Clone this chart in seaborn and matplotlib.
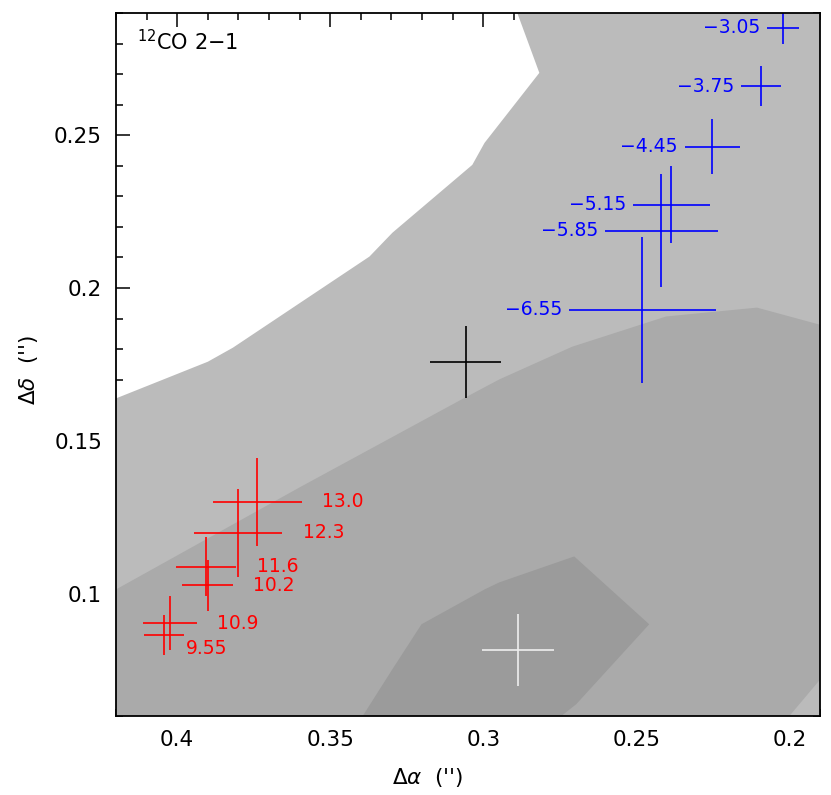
import matplotlib
matplotlib.use("Agg")
import matplotlib.pyplot as plt
from matplotlib.ticker import MultipleLocator, FormatStrFormatter
import seaborn as sns

# contour boundaries (delta alpha, delta delta)
edge1_x = [0.42, 0.390, 0.3818, 0.3372, 0.3297, 0.3036, 0.2996, 0.2817, 0.2889]
edge1_y = [0.1639, 0.1759, 0.1805, 0.2103, 0.2181, 0.2403, 0.2475, 0.2704, 0.29]
edge2_x = [0.42, 0.360, 0.3072, 0.2948, 0.2710, 0.2403, 0.2106, 0.19, 0.19, 0.20]
edge2_y = [0.1014, 0.1348, 0.1635, 0.1701, 0.1808, 0.1907, 0.1936, 0.1880, 0.0719, 0.06]
edge3_x = [0.3394, 0.3297, 0.3202, 0.2996, 0.2948, 0.2703, 0.2458, 0.2696, 0.2745]
edge3_y = [0.06, 0.0753, 0.090, 0.1014, 0.1037, 0.1122, 0.0900, 0.0639, 0.06]

# red-shifted components
red_x = [0.3738, 0.3801, 0.3906, 0.3901, 0.4025, 0.4043]
red_y = [0.1301, 0.1200, 0.1089, 0.1027, 0.0903, 0.0865]
red_err = [0.0144, 0.0144, 0.0098, 0.0082, 0.0088, 0.0065]
red_labels = ['13.0', '12.3', '11.6', '10.2', '10.9', '9.55']

# blue-shifted components
blue_x = [0.2020, 0.2092, 0.2252, 0.2386, 0.2418, 0.2480]
blue_y = [0.2851, 0.2661, 0.2462, 0.2273, 0.2187, 0.1929]
blue_err = [0.0052, 0.0066, 0.0090, 0.0125, 0.0185, 0.0239]
blue_labels = ['\u22123.05', '\u22123.75', '\u22124.45', '\u22125.15', '\u22125.85', '\u22126.55']

# reference crosses
ref_x = [0.3058, 0.2886]
ref_y = [0.1758, 0.0816]
ref_err = [0.0117, 0.0117]
ref_colors = ['black', '#eeeeee']

xmin, xmax = 0.42, 0.19
ymin, ymax = 0.06, 0.29

sns.set_theme(style="ticks")
plt.rcParams['font.family'] = ['DejaVu Sans']
plt.rcParams.update({'text.color': 'black', 'axes.labelcolor': 'black',
                     'xtick.color': 'black', 'ytick.color': 'black',
                     'axes.edgecolor': 'black'})

fig = plt.figure(figsize=(8.31, 7.95), dpi=100)
ax = fig.add_axes([0.1396, 0.0994, 0.8472, 0.8843])
ax.set_facecolor('white')

# filled contours
ax.fill(edge1_x + [xmax, xmax, xmin], edge1_y + [ymax, ymin, ymin],
        color='#bbbbbb', lw=0)
ax.fill(edge2_x + [xmin], edge2_y + [ymin], color='#aaaaaa', lw=0)
ax.fill(edge3_x, edge3_y, color='#9b9b9b', lw=0)

ax.errorbar(red_x, red_y, xerr=red_err, yerr=red_err, fmt='none',
            ecolor='red', elinewidth=1.2, capsize=0)
ax.errorbar(blue_x, blue_y, xerr=blue_err, yerr=blue_err, fmt='none',
            ecolor='blue', elinewidth=1.2, capsize=0)
for x, y, e, c in zip(ref_x, ref_y, ref_err, ref_colors):
    ax.errorbar([x], [y], xerr=[e], yerr=[e], fmt='none', ecolor=c,
                elinewidth=1.2, capsize=0)

for x, y, e, lab in zip(red_x, red_y, red_err, red_labels):
    off = (1.5, -10) if lab == '9.55' else (15, 0)
    ax.annotate(lab, (x - e, y), xytext=off, textcoords='offset points',
                color='red', fontsize=13.5, ha='left', va='center')
for x, y, e, lab in zip(blue_x, blue_y, blue_err, blue_labels):
    ax.annotate(lab, (x + e, y), xytext=(-5, 0), textcoords='offset points',
                color='blue', fontsize=13.5, ha='right', va='center')

ax.text(0.03, 0.947, r'$^{12}$CO 2$-$1', transform=ax.transAxes,
        fontsize=15, ha='left', va='baseline', color='black')

ax.set_xlim(xmin, xmax)
ax.set_ylim(ymin, ymax)
ax.xaxis.set_major_locator(MultipleLocator(0.05))
ax.xaxis.set_minor_locator(MultipleLocator(0.01))
ax.yaxis.set_major_locator(MultipleLocator(0.05))
ax.yaxis.set_minor_locator(MultipleLocator(0.01))
ax.xaxis.set_major_formatter(FormatStrFormatter('%g'))
ax.yaxis.set_major_formatter(FormatStrFormatter('%g'))
ax.tick_params(which='both', direction='in', top=True, right=True,
               color='black', labelcolor='black', width=1.1,
               labelsize=15.5, pad=10)
ax.tick_params(which='major', length=10)
ax.tick_params(which='minor', length=5)
for s in ax.spines.values():
    s.set_linewidth(1.3)
    s.set_color('black')
    s.set_zorder(5)

ax.set_xlabel("$\\Delta\\alpha$  ('')", fontsize=15.5, color='black')
ax.set_ylabel("$\\Delta\\delta$  ('')", fontsize=15.5, color='black')
ax.xaxis.set_label_coords((428 - 116) / 704, -50 / 703)
ax.yaxis.set_label_coords(-(116 - 40) / 704, (716 - 370) / 703)

fig.savefig('out.png', dpi=100)
